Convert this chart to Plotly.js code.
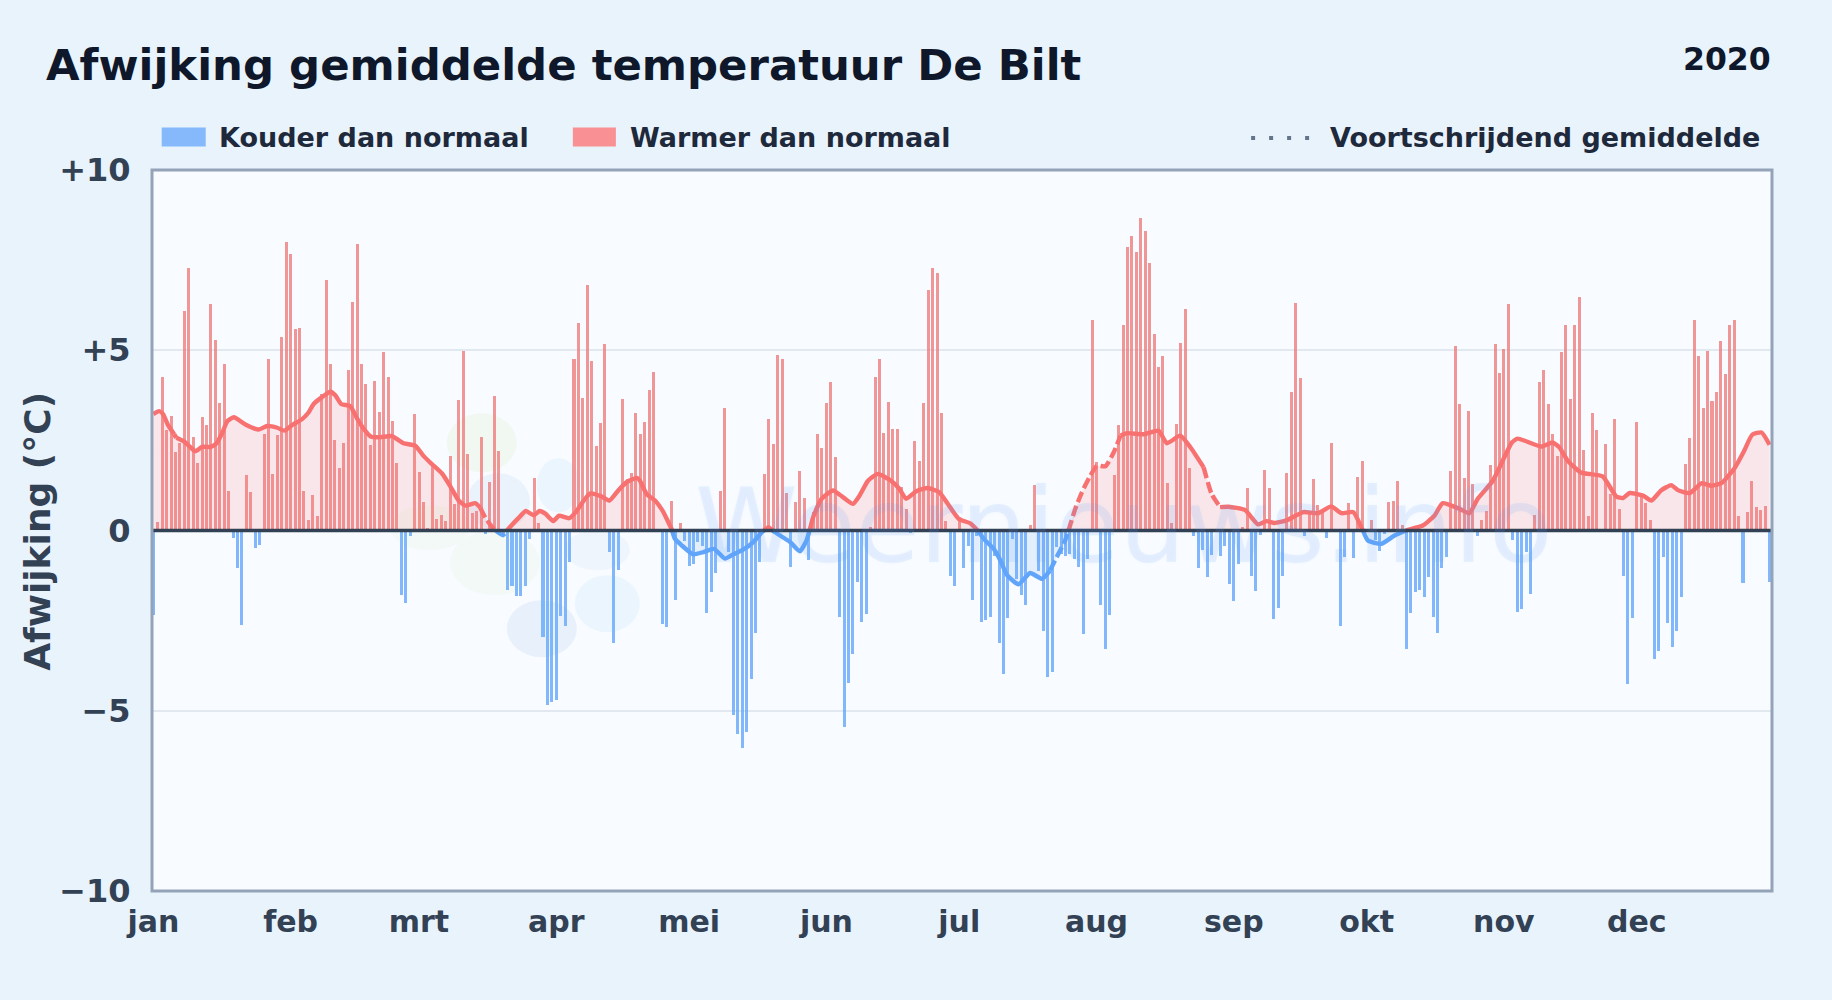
<!DOCTYPE html>
<html>
<head>
<meta charset="utf-8">
<script src="https://cdn.plot.ly/plotly-3.0.1.min.js"></script>
<style>html,body{margin:0;padding:0;background:#e8f3fc;overflow:hidden}#chart{width:1832px;height:1000px}</style>
</head>
<body>
<div id="chart"></div>
<script>
var chartTitle = "Afwijking gemiddelde temperatuur De Bilt";
var yearLabel = "2020";
var yTitle = "Afwijking (°C)";
var coldName = "Kouder dan normaal";
var warmName = "Warmer dan normaal";
var trendName = "Voortschrijdend gemiddelde";
var watermark = "Weernieuws.info";
var monthLabels = ["jan","feb","mrt","apr","mei","jun","jul","aug","sep","okt","nov","dec"];
var monthStarts = [0,31,60,91,121,152,182,213,244,274,305,335];
var yTickVals = [10,5,0,-5,-10];
var yTickText = ["+10","+5","0","\u22125","\u221210"];

// daily anomaly (°C), day 0 = 1 jan 2020
var anomalies = [
-2.34,.23,4.25,2.79,3.17,2.17,2.42,6.08,7.29,2.59,
1.87,3.14,2.92,6.29,5.28,3.53,4.63,1.10,-.22,-1.05,
-2.63,1.54,1.07,-.49,-.39,2.68,4.77,1.57,2.65,5.36,
8.0,7.66,5.58,5.63,1.10,.30,.99,.40,3.80,6.94,
4.61,2.51,1.73,2.42,4.45,6.35,7.95,4.63,4.06,2.37,
4.14,3.28,4.94,4.25,3.03,1.87,-1.8,-2.0,-.14,3.23,
1.62,.79,.07,1.83,.33,.43,.27,2.07,.74,3.62,
4.97,2.12,.48,.53,2.6,-.1,1.34,3.72,2.21,-.1,
-1.64,-1.54,-1.82,-1.82,-1.54,-.23,1.46,.22,-2.95,-4.85,
-4.75,-4.7,-2.37,-2.65,-.88,4.76,5.75,3.68,6.8,4.7,
2.35,2.98,5.16,-.6,-3.12,-1.1,3.65,1.43,1.6,3.26,
2.68,3.0,3.9,4.4,.05,-2.58,-2.67,.83,-1.92,.22,
-.28,-.99,-.92,-.32,-.43,-2.3,-1.7,-1.18,1.1,3.4,
-.6,-5.13,-5.65,-6.04,-5.6,-4.11,-2.84,-.88,1.57,3.1,
2.4,4.87,4.76,1.05,-1.01,.8,1.66,.91,-.82,.5,
2.68,2.3,3.54,4.12,2.05,-2.4,-5.44,-4.22,-3.42,-1.43,
-2.54,-2.31,.1,4.26,4.76,2.71,3.57,2.82,2.82,1.22,
.61,-.07,2.49,1.94,3.54,6.67,7.27,7.14,3.26,.25,
-1.26,-1.54,.37,-1.04,-.43,-1.92,-.14,-2.54,-2.47,-2.4,
-.7,-3.12,-3.99,-2.43,-.24,-1.34,-1.78,-2.06,.14,1.27,
-1.13,-2.79,-4.06,-3.92,-.46,-.65,-.7,-.65,-.8,-1.0,
-2.87,-.8,5.84,1.9,-2.07,-3.28,-2.34,1.55,2.93,5.7,
7.86,8.16,7.72,8.66,8.3,7.41,5.45,4.54,4.84,1.33,
.22,2.96,5.2,6.14,1.72,-.14,-1.04,-.55,-1.29,-.69,
-.05,-.72,-.44,-1.49,-1.95,-.93,.11,1.19,-1.25,-1.68,
-.13,1.69,1.19,-2.45,-2.15,-1.26,1.6,3.85,6.31,4.23,
-.14,.5,1.44,.72,.5,-.21,2.43,.05,-2.65,-.74,
.75,-.77,1.49,1.94,-.05,.3,-.26,-.57,-.1,.8,
.83,1.36,.14,-3.3,-2.28,-1.7,-1.65,-1.84,-1.29,-2.4,
-2.83,-1.03,-.74,1.66,5.12,3.51,1.47,3.32,1.3,-.16,
.3,.55,1.83,5.17,4.37,5.03,6.28,-.26,-2.26,-2.18,
-.6,-1.76,.44,4.12,4.45,3.51,2.68,2.07,4.95,5.7,
3.65,5.7,6.47,2.24,.39,3.26,2.79,.05,2.41,1.0,
3.1,.61,-1.27,-4.25,-2.43,3.02,1.0,.77,.28,-3.56,
-3.34,-.74,-2.56,-3.23,-2.78,-1.84,1.85,2.57,5.84,4.84,
3.4,4.98,3.6,3.84,5.26,4.34,5.7,5.84,.41,-1.46,
.5,1.38,.64,.58,.69,-1.43];

// moving average: day, value
var trendDays = [0,1.3,2.2,3.3,4.7,5.2,6.9,8.3,9.5,11,13,14.3,15.6,16.7,18.2,20.8,23.8,25.7,28,29.6,31.4,33.6,35.1,36.2,38.1,40,41.1,42.4,44.5,46,47.5,49.2,51.3,53.9,56.5,59.2,61,63,65.2,67,68.9,70.5,72.7,73.8,75,76.5,77.6,79,80.2,82.5,84.1,85.9,87.2,88.6,90.3,91.6,93.9,95.4,97.2,98.7,101.3,103,105,106.9,109.2,109.9,111.4,113.3,115,116.3,117,117.8,119.3,121.9,124.2,126.6,129.1,131,133.2,135.5,137.4,138.9,140.4,143.8,146,147.5,148,149,150.9,153.5,155.8,158,159.5,161.4,163.6,166.6,168.5,170,172.3,174.9,177.5,179.4,181.9,184.5,186,187.9,189.8,191.3,192.8,195.4,198,200.7,202.5,204,205.9,206.9,208.2,209.7,211.6,213.1,215,216.9,218.4,219.9,223.7,227,228.9,231.9,234.2,237.2,239,240.9,242.8,246.5,249.5,251.4,253.2,255.9,259.7,263,266,268.3,271,272.8,274.3,277.3,280.3,283.3,286.7,289.3,291.2,295,297.2,299.1,302.5,305.1,306.8,308.1,313.4,316,317.5,319.4,322.4,327.3,330.4,331.9,333.4,336.4,338.3,340.5,342.8,344.3,347,349.6,351.9,354.2,357.2,359.1,361.1,363.2,365];
var trendVals = [3.23,3.31,3.23,2.93,2.67,2.57,2.47,2.32,2.2,2.32,2.32,2.42,2.72,3.03,3.14,2.94,2.8,2.9,2.85,2.77,2.93,3.09,3.28,3.51,3.7,3.85,3.75,3.51,3.45,3.11,2.82,2.6,2.59,2.62,2.42,2.35,2.07,1.83,1.58,1.24,.84,.69,.76,.64,.35,.1,-.03,-.13,.05,.35,.54,.42,.54,.46,.26,.41,.34,.51,.83,1.03,.94,.83,1.11,1.34,1.46,1.38,1.01,.83,.55,.23,.05,-.23,-.41,-.66,-.6,-.51,-.78,-.66,-.53,-.32,-.05,.09,-.05,-.32,-.58,-.28,-.09,.37,.88,1.11,.92,.74,.97,1.38,1.57,1.38,1.15,.88,1.09,1.18,1.06,.74,.32,.2,.02,-.28,-.51,-.83,-1.24,-1.49,-1.18,-1.34,-1.11,-.74,-.28,.09,.6,1.06,1.52,1.8,1.78,2.17,2.63,2.7,2.67,2.77,2.42,2.63,2.31,1.75,1.01,.65,.66,.57,.17,.26,.21,.28,.51,.48,.67,.48,.51,.09,-.28,-.37,-.14,.02,.14,.41,.76,.6,.48,.88,1.38,2.03,2.44,2.55,2.33,2.44,2.31,1.94,1.61,1.5,.94,.9,1.04,.97,.83,1.11,1.26,1.12,1.04,1.31,1.24,1.32,1.75,2.17,2.66,2.72,2.38];
// day ranges in which the curve is drawn broken
var dashedRanges = [[4.7,6],[73.8,80],[203,218.4],[236.5,240]];

var WIDTH = 1832, HEIGHT = 1000;
var ML = 152.3, MR = WIDTH - 1771.7, MT = 169.6, MB = HEIGHT - 891;
var PW = WIDTH - ML - MR, PH = HEIGHT - MT - MB;
function px(x){ return (x - ML) / PW; }
function py(y){ return 1 - (y - MT) / PH; }

var WARM = "#f87171", COLD = "#60a5fa";

var coldX = [], coldY = [], warmX = [], warmY = [];
anomalies.forEach(function(v, i){
  if (v < 0) { coldX.push(i); coldY.push(v); } else { warmX.push(i); warmY.push(v); }
});

// split the curve at zero crossings for colouring
var cx = [], cy = [];
trendDays.forEach(function(d, i){
  if (i > 0 && trendVals[i-1] * trendVals[i] < 0) {
    var p = trendVals[i-1] / (trendVals[i-1] - trendVals[i]);
    cx.push(trendDays[i-1] + p * (d - trendDays[i-1])); cy.push(0);
  }
  cx.push(d); cy.push(trendVals[i]);
});

function isDashed(d){ return dashedRanges.some(function(r){ return d >= r[0] && d <= r[1]; }); }

var traces = [];
traces.push({x: cx, y: cy.map(function(v){ return Math.max(v, 0); }), type: "scatter", mode: "none", fill: "tozeroy", fillcolor: "rgba(248,113,113,0.15)", hoverinfo: "skip", showlegend: false});
traces.push({x: cx, y: cy.map(function(v){ return Math.min(v, 0); }), type: "scatter", mode: "none", fill: "tozeroy", fillcolor: "rgba(96,165,250,0.13)", hoverinfo: "skip", showlegend: false});
traces.push({x: coldX, y: coldY, type: "bar", name: coldName, width: 0.68, marker: {color: "rgba(96,165,250,0.78)", line: {width: 0}}, showlegend: false});
traces.push({x: warmX, y: warmY, type: "bar", name: warmName, width: 0.68, marker: {color: "rgba(238,122,122,0.78)", line: {width: 0}}, showlegend: false});

// curve pieces
var pieces = [], cur = null;
for (var i = 1; i < cx.length; i++) {
  var mid = (cx[i-1] + cx[i]) / 2, sgn = (cy[i-1] + cy[i]) >= 0 ? 1 : -1, dsh = isDashed(mid);
  if (!cur || cur.sgn !== sgn || cur.dsh !== dsh) {
    cur = {sgn: sgn, dsh: dsh, x: [cx[i-1]], y: [cy[i-1]]};
    pieces.push(cur);
  }
  cur.x.push(cx[i]); cur.y.push(cy[i]);
}
pieces.forEach(function(t){
  traces.push({x: t.x, y: t.y, type: "scatter", mode: "lines", name: trendName, showlegend: false,
    line: {color: t.sgn > 0 ? WARM : COLD, width: 4.4, shape: "spline", smoothing: 0.5, dash: t.dsh ? "11px,4px" : "solid"}});
});

function blob(x0, x1, y0, y1, color){
  return {type: "circle", xref: "paper", yref: "paper", x0: px(x0), x1: px(x1), y0: py(y1), y1: py(y0),
          fillcolor: color, line: {width: 0}, layer: "below"};
}
var shapes = [
  blob(447,517,413,472,"rgba(190,230,130,0.10)"),
  blob(390,470,505,550,"rgba(190,230,130,0.07)"),
  blob(450,540,530,595,"rgba(190,230,130,0.07)"),
  blob(467,530,473,530,"rgba(100,150,220,0.09)"),
  blob(537,580,458,512,"rgba(150,210,250,0.13)"),
  blob(507,577,600,657,"rgba(100,150,220,0.10)"),
  blob(575,640,575,632,"rgba(150,210,250,0.13)"),
  blob(565,630,530,570,"rgba(100,150,220,0.06)"),
  // legend swatches
  {type: "rect", xref: "paper", yref: "paper", x0: px(162), x1: px(206), y0: py(146), y1: py(127), fillcolor: "#85b9fb", line: {width: 0}},
  {type: "rect", xref: "paper", yref: "paper", x0: px(573), x1: px(616), y0: py(146), y1: py(127), fillcolor: "#f99093", line: {width: 0}},
  {type: "line", xref: "paper", yref: "paper", x0: px(1251), x1: px(1310), y0: py(137.5), y1: py(137.5), line: {color: "#64748b", width: 4, dash: "4px,14px"}},
  // zero line and plot frame
  {type: "line", xref: "paper", yref: "y", x0: 0, x1: 1, y0: 0, y1: 0, line: {color: "#334155", width: 3.4}, layer: "above"},
  {type: "rect", xref: "paper", yref: "paper", x0: 0, x1: 1, y0: 0, y1: 1, fillcolor: "rgba(0,0,0,0)", line: {color: "#94a3b8", width: 3}, layer: "above"}
];

function label(text, x, y, size, color, anchor, extra){
  var a = {text: text, xref: "paper", yref: "paper", x: px(x), y: py(y), xanchor: anchor, yanchor: "middle", showarrow: false,
           font: {family: "DejaVu Sans", size: size, color: color}};
  return Object.assign(a, extra || {});
}
var annotations = [
  {text: watermark, xref: "paper", yref: "paper", x: px(1124), y: py(526), xanchor: "center", yanchor: "middle", showarrow: false,
   font: {family: "DejaVu Sans", size: 104, color: "rgba(96,165,250,0.13)", shadow: "0 0 5px rgba(96,165,250,0.15)"}},
  label("<b>" + chartTitle + "</b>", 44, 65, 43.4, "#0f172a", "left"),
  label("<b>" + yearLabel + "</b>", 1773, 59, 31.5, "#0f172a", "right"),
  label("<b>" + coldName + "</b>", 217, 137, 27, "#1e293b", "left"),
  label("<b>" + warmName + "</b>", 628, 137, 27, "#1e293b", "left"),
  label("<b>" + trendName + "</b>", 1762, 137, 27, "#1e293b", "right"),
  label("<b>" + yTitle + "</b>", 38, 531, 36, "#334155", "center", {textangle: -90})
];

var layout = {
  width: WIDTH, height: HEIGHT,
  margin: {l: ML, r: MR, t: MT, b: MB, pad: 0},
  paper_bgcolor: "#e8f3fc", plot_bgcolor: "#f8fbff",
  barmode: "overlay", bargap: 0, showlegend: false,
  font: {family: "DejaVu Sans"},
  xaxis: {range: [-0.3, 365.55], tickmode: "array", tickvals: monthStarts, ticktext: monthLabels.map(function(m){ return "<b>" + m + "</b>"; }),
    tickfont: {family: "DejaVu Sans", size: 30, color: "#334155"}, showgrid: false, zeroline: false, ticks: "outside", ticklen: 3.5, tickcolor: "rgba(0,0,0,0)",
    showline: false, fixedrange: true},
  yaxis: {range: [-10, 10], tickmode: "array", tickvals: yTickVals, ticktext: yTickText.map(function(t){ return "<b>" + t + "</b>"; }),
    tickfont: {family: "DejaVu Sans", size: 32, color: "#334155"}, gridcolor: "#e2e8f0", gridwidth: 2, zeroline: false, ticks: "outside", ticklen: 14, tickcolor: "rgba(0,0,0,0)",
    showline: false, fixedrange: true},
  shapes: shapes, annotations: annotations
};
if (anomalies.length !== 366) throw new Error("anomalies length " + anomalies.length);
if (trendDays.length !== trendVals.length) throw new Error("trend length " + trendDays.length + " vs " + trendVals.length);
Plotly.newPlot("chart", traces, layout, {displayModeBar: false, staticPlot: true});
</script>
</body>
</html>
